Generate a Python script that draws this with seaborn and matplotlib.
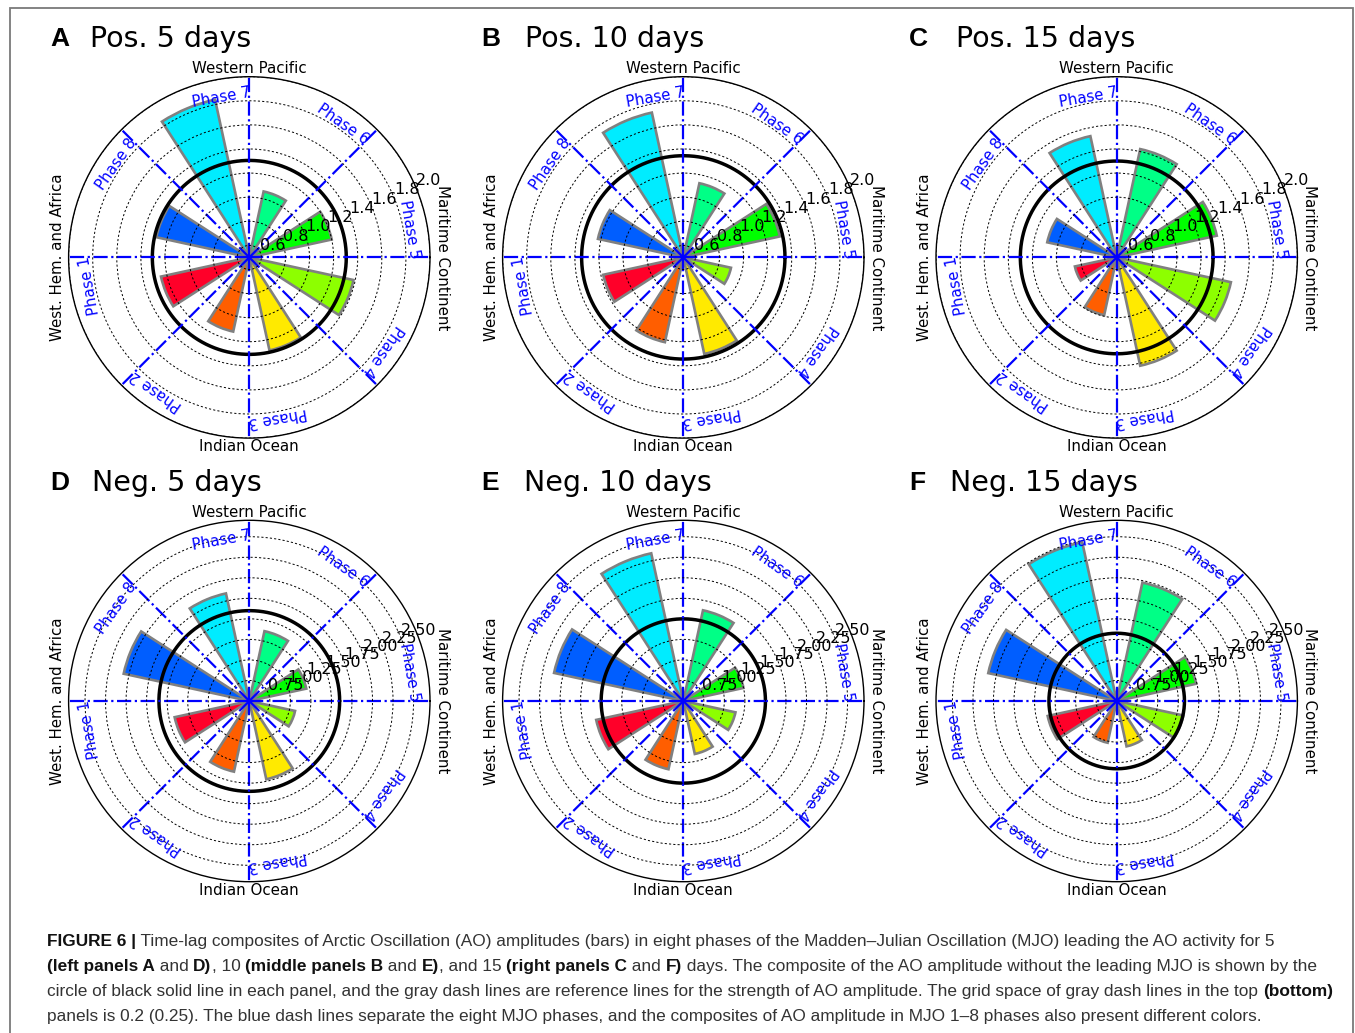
import numpy as np
import pandas as pd
import matplotlib
matplotlib.use("Agg")
import matplotlib.pyplot as plt
import seaborn as sns
from matplotlib.patches import Rectangle

# ---------------- data ----------------
phases = ["Phase 1", "Phase 2", "Phase 3", "Phase 4", "Phase 5", "Phase 6", "Phase 7", "Phase 8"]
phase_angle_deg = [202.5, 247.5, 292.5, 337.5, 22.5, 67.5, 112.5, 157.5]

panel_letters = ["A", "B", "C", "D", "E", "F"]
panel_titles = ["Pos. 5 days", "Pos. 10 days", "Pos. 15 days",
                "Neg. 5 days", "Neg. 10 days", "Neg. 15 days"]

# AO amplitude per MJO phase (Phase 1 ... Phase 8)
pos5 = [1.25, 1.13, 1.29, 1.385, 1.20, 1.06, 1.84, 1.29]
pos10 = [1.18, 1.22, 1.32, 0.905, 1.32, 1.13, 1.73, 1.225]
pos15 = [0.855, 0.99, 1.42, 1.47, 1.35, 1.42, 1.53, 1.09]
neg5 = [1.43, 1.38, 1.475, 1.07, 1.21, 1.37, 1.84, 2.065]
neg10 = [1.585, 1.35, 1.16, 1.15, 1.25, 1.63, 2.34, 2.11]
neg15 = [1.36, 1.02, 1.065, 1.33, 1.49, 1.975, 2.48, 2.10]
panel_values = [pos5, pos10, pos15, neg5, neg10, neg15]

# composite without leading MJO (black circle)
no_mjo = [1.305, 1.344, 1.30, 1.60, 1.50, 1.325]

top_rticks = [0.6, 0.8, 1.0, 1.2, 1.4, 1.6, 1.8, 2.0]
top_rlabels = ["0.6", "0.8", "1.0", "1.2", "1.4", "1.6", "1.8", "2.0"]
bot_rticks = [0.75, 1.00, 1.25, 1.50, 1.75, 2.00, 2.25, 2.50]
bot_rlabels = ["0.75", "1.00", "1.25", "1.50", "1.75", "2.00", "2.25", "2.50"]

direction_labels = ["Western Pacific", "Maritime Continent", "Indian Ocean", "West. Hem. and Africa"]

caption_lines = [
    [("FIGURE 6 |", True),
     (" Time-lag composites of Arctic Oscillation (AO) amplitudes (bars) in eight phases of the Madden\u2013Julian Oscillation (MJO) leading the AO activity for 5", False)],
    [("(left panels A", True), (" and ", False), ("D)", True), (", 10 ", False),
     ("(middle panels B", True), (" and ", False), ("E)", True), (", and 15 ", False),
     ("(right panels C", True), (" and ", False), ("F)", True),
     (" days. The composite of the AO amplitude without the leading MJO is shown by the", False)],
    [("circle of black solid line in each panel, and the gray dash lines are reference lines for the strength of AO amplitude. The grid space of gray dash lines in the top ", False),
     ("(bottom)", True)],
    [("panels is 0.2 (0.25). The blue dash lines separate the eight MJO phases, and the composites of AO amplitude in MJO 1\u20138 phases also present different colors.", False)],
]

# ---------------- style ----------------
sns.set_style("white", rc={"axes.edgecolor": "black", "text.color": "black",
                           "xtick.color": "black", "ytick.color": "black"})
plt.rcParams["font.family"] = ["DejaVu Sans"]

cmap = plt.get_cmap("gist_rainbow")
phase_colors = [cmap(v) for v in np.linspace(0.0, 0.7, 8)]

W, H = 1355, 1033
fig = plt.figure(figsize=(W / 100, H / 100), dpi=100)
fig.patch.set_facecolor("white")

R = 180.7
centers_x = [249.3, 683.3, 1116.7]
centers_y = [257.4, 701.0]
letter_x = [50, 481, 909]
title_x = [[90, 525, 956], [92, 524, 950]]
letter_base = [46, 490]
title_base = [47, 491]
bar_width = np.deg2rad(20.5)

for i in range(6):
    row, col = divmod(i, 3)
    cx, cy = centers_x[col], centers_y[row]
    ax = fig.add_axes([(cx - R) / W, 1 - (cy + R) / H, 2 * R / W, 2 * R / H],
                      projection="polar")
    rmin = 0.5
    rmax = 2.0 if row == 0 else 2.7
    df = pd.DataFrame({"theta": np.deg2rad(phase_angle_deg),
                       "height": np.array(panel_values[i]) - rmin,
                       "phase": phases})
    sns.barplot(data=df, x="theta", y="height", hue="phase", hue_order=phases,
                palette=phase_colors, saturation=1, native_scale=True, orient="x",
                width=bar_width / np.deg2rad(45), bottom=rmin,
                edgecolor="#808080", linewidth=1.9, errorbar=None,
                legend=False, ax=ax, zorder=1)
    ax.set_xlabel("")
    ax.set_ylabel("")

    # black circle: composite without MJO
    tc = np.linspace(0, 2 * np.pi, 400)
    ax.plot(tc, np.full_like(tc, no_mjo[i]), color="black", lw=2.5, zorder=2)

    ax.set_ylim(rmin, rmax)
    ax.set_xticks(np.deg2rad(np.arange(0, 360, 45)))
    ax.set_xticklabels([])
    if row == 0:
        ax.set_yticks(top_rticks)
        ax.set_yticklabels(top_rlabels, fontsize=11.5)
    else:
        ax.set_yticks(bot_rticks)
        ax.set_yticklabels(bot_rlabels, fontsize=11.5)
    ax.set_rlabel_position(22.5)
    ax.set_axisbelow(False)
    ax.xaxis.grid(True, color="#0000ff", linestyle=(0, (6.4, 1.6, 1.0, 1.6)), linewidth=1.6)
    ax.yaxis.grid(True, color="black", linestyle=(0, (2.2, 2.2)), linewidth=0.7)
    ax.tick_params(axis="y", pad=0)
    ax.spines["polar"].set_linewidth(1.0)
    ax.spines["polar"].set_color("black")

    # phase labels
    rl = rmin + 0.90 * (rmax - rmin)
    for ph, ang in zip(phases, phase_angle_deg):
        a = ang - 12.5
        ax.text(np.deg2rad(a), rl, ph, color="#0000ff", fontsize=10.8,
                rotation=a - 90, rotation_mode="anchor", ha="center", va="center")

    # direction labels
    ax.text(0.5, 1.0097, direction_labels[0], transform=ax.transAxes,
            ha="center", va="baseline", fontsize=10.8)
    ax.text(1.0138, 0.5, direction_labels[1], transform=ax.transAxes,
            ha="left", va="center", rotation=-90, fontsize=10.8)
    ax.text(0.5, -0.037, direction_labels[2], transform=ax.transAxes,
            ha="center", va="baseline", fontsize=10.8)
    ax.text(-0.01, 0.5, direction_labels[3], transform=ax.transAxes,
            ha="right", va="center", rotation=90, fontsize=10.8)

    # titles
    fig.text(letter_x[col] / W, 1 - letter_base[row] / H, panel_letters[i],
             family="Liberation Sans", fontweight="bold", fontsize=19,
             ha="left", va="baseline")
    fig.text(title_x[row][col] / W, 1 - title_base[row] / H, panel_titles[i],
             fontsize=20.5, ha="left", va="baseline")

# frame border
fig.add_artist(Rectangle((10 / W, -0.02), 1343 / W, 1 - 8 / H + 0.02,
                         transform=fig.transFigure, fill=False,
                         edgecolor="#7a7a7a", linewidth=1.3))

# caption with bold segments
renderer = fig.canvas.get_renderer()


def text_width(s, **kw):
    t1 = fig.text(0, 0, "I" + s + "I", **kw)
    t2 = fig.text(0, 0, "II", **kw)
    w = t1.get_window_extent(renderer).width - t2.get_window_extent(renderer).width
    t1.remove()
    t2.remove()
    return w


def seg_kw(bold, size):
    return dict(family="Liberation Sans", fontsize=size,
                fontweight="bold" if bold else "normal",
                color="#111111" if bold else "#333333")


base_size = 11.0
target_widths = [1231.0, 1268.0, 1266.0]
measured = [sum(text_width(s, **seg_kw(b, base_size)) for s, b in caption_lines[k])
            for k in range(3)]
cap_size = base_size * sum(target_widths) / sum(measured)

cap_x0 = 47.0
cap_base = [946, 971, 996, 1021]
for line, yb in zip(caption_lines, cap_base):
    x = cap_x0
    for s, b in line:
        kw = seg_kw(b, cap_size)
        fig.text(x / W, 1 - yb / H, s, ha="left", va="baseline", **kw)
        x += text_width(s, **kw)

fig.savefig("out.png", dpi=100, facecolor="white")
